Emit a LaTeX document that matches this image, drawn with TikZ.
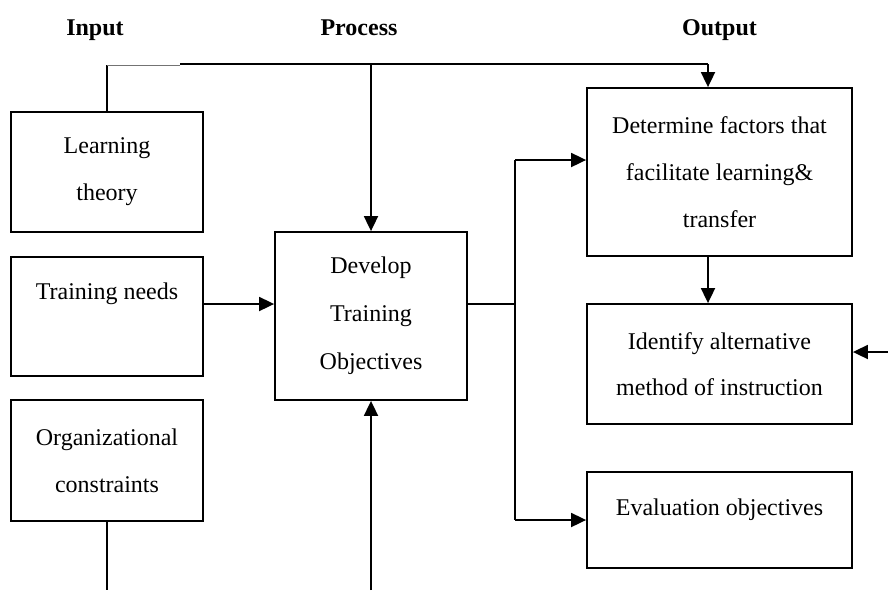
\documentclass[tikz,border=0pt]{standalone}
\usepackage{fontspec}
\setmainfont{Liberation Serif}
\usetikzlibrary{arrows.meta}
\begin{document}
\begin{tikzpicture}[x=1pt,y=-1pt,
  box/.style={draw, line width=1.8pt, inner sep=0pt, align=center,
    font=\fontsize{24}{47}\selectfont},
  head/.style={anchor=base, font=\fontsize{24}{28}\selectfont\bfseries},
  conn/.style={line width=1.8pt},
  arr/.style={line width=1.8pt, -{Triangle[length=15pt,width=14pt]}},
  faint/.style={line width=1pt, draw=black!55}]
\useasboundingbox (0,0) rectangle (888,590);

% column headings
\node[head] (hin)  at (95,35)    {Input};
\node[head] (hpro) at (359,35)   {Process};
\node[head] (hout) at (719.5,35) {Output};

% input boxes
\node[box, minimum width=192pt, minimum height=120pt] (lt) at (107,172)
  {Learning\\ theory};
\node[box, minimum width=192pt, minimum height=119pt] (tn) at (107,316.5)
  {\raisebox{17.5pt}[0pt][0pt]{Training needs}};
\node[box, minimum width=192pt, minimum height=121pt] (oc) at (107,460.5)
  {Organizational\\ constraints};

% process box
\node[box, minimum width=192pt, minimum height=168pt,
  font=\fontsize{24}{48}\selectfont] (dev) at (371,316)
  {Develop\\ Training\\ Objectives};

% output boxes
\node[box, minimum width=265pt, minimum height=168pt] (det) at (719.5,172)
  {Determine factors that\\ facilitate learning\&\\ transfer};
\node[box, minimum width=265pt, minimum height=120pt,
  font=\fontsize{24}{46}\selectfont] (ident) at (719.5,364)
  {Identify alternative\\ method of instruction};
\node[box, minimum width=265pt, minimum height=96pt] (eval) at (719.5,520)
  {\raisebox{5pt}[0pt][0pt]{Evaluation objectives}};

% junction points of the connectors
\coordinate (ltup) at (107,65);
\coordinate (tj)   at (180,64);
\coordinate (tr)   at (708,64);
\coordinate (tdev) at (371,64);
\coordinate (mid)  at (515,304);
\coordinate (bt)   at (515,160);
\coordinate (bb)   at (515,520);
\coordinate (rin)  at (888,352);
\coordinate (ocdn) at (107,590);
\coordinate (devup) at (371,590);

% top feed line
\draw[conn] (lt.north) -- (ltup);
\draw[faint] (ltup) -- (tj |- ltup);
\draw[conn] (tj) -- (tr);
\draw[arr] (tr) -- (tr |- det.north);
\draw[arr] (tdev) -- (dev.north);

% input to process
\draw[arr] (tn.east |- mid) -- (dev.west |- mid);

% process to outputs
\draw[conn] (dev.east |- mid) -- (mid);
\draw[conn] (bt) -- (bb);
\draw[arr] (bt) -- (bt -| det.west);
\draw[arr] (bb) -- (bb -| eval.west);
\draw[arr] (det.south -| tr) -- (ident.north -| tr);
\draw[arr] (rin) -- (ident.east |- rin);

% bottom lines
\draw[conn] (oc.south) -- (ocdn);
\draw[arr] (devup) -- (dev.south);
\end{tikzpicture}
\end{document}
